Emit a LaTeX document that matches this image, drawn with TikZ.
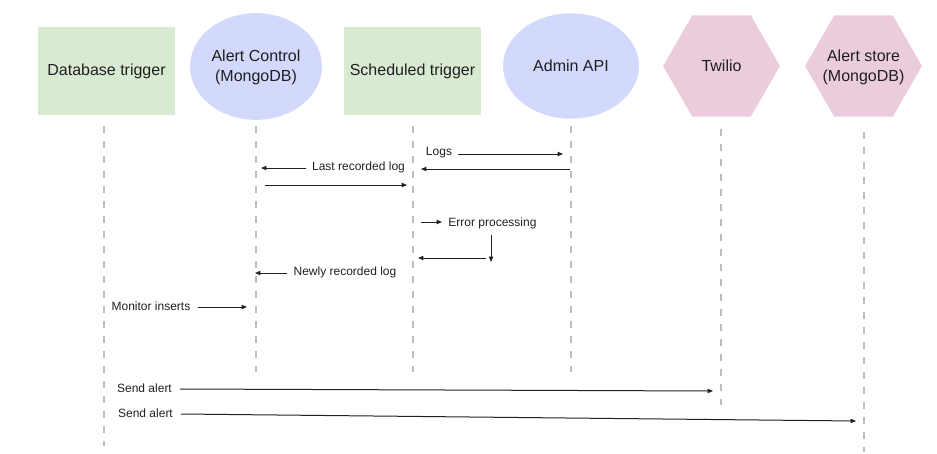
\documentclass[tikz,border=0pt]{standalone}
\usepackage{fontspec}
\setmainfont{Liberation Sans}
\usetikzlibrary{shapes.geometric,arrows.meta}
\definecolor{boxgreen}{HTML}{D9EAD3}
\definecolor{ellblue}{HTML}{D3D9FC}
\definecolor{hexpink}{HTML}{EBCCDC}
\definecolor{lifegrey}{HTML}{BDBDBD}
\definecolor{ink}{HTML}{202020}
\begin{document}
\begin{tikzpicture}[x=0.75pt,y=-0.75pt,
  headtext/.style={font=\fontsize{12}{15}\selectfont, text=ink, align=center, inner sep=0pt},
  actorbox/.style={headtext, rectangle, fill=boxgreen, minimum width=102.75pt, minimum height=66pt},
  actorell/.style={headtext, ellipse, fill=ellblue, minimum width=99pt, minimum height=80pt},
  actorhex/.style={regular polygon, regular polygon sides=6, fill=hexpink, minimum size=87.75pt, inner sep=0pt},
  lifeline/.style={draw=lifegrey, line width=1pt, dash pattern=on 5.25pt off 6pt},
  msg/.style={draw=ink, line width=0.75pt, -{Triangle[length=4pt,width=3.2pt]}},
  msgtext/.style={font=\fontsize{9}{11}\selectfont, text=ink, inner sep=0pt}]
\useasboundingbox (0,0) rectangle (937,453);

% participants
\node[actorbox] (db) at (106.5,71) {Database trigger};
\node[actorell] (ac) at (256,66.5) {};
\node[headtext] (acL) at (256,67.5) {Alert Control\\(MongoDB)};
\node[actorbox] (st) at (412.5,71) {Scheduled trigger};
\node[actorell, minimum width=102pt, minimum height=79pt] (api) at (571,66) {Admin API};
\node[actorhex] (tw) at (721.5,66) {};
\node[headtext] (twL) at (tw.center) {Twilio};
\node[actorhex] (as) at (863.5,66) {};
\node[headtext] (asL) at (863.5,67) {Alert store\\(MongoDB)};

% lifelines
\coordinate (dbT) at (104,126);  \coordinate (dbB) at (104,446);
\coordinate (acT) at (256,126);  \coordinate (acB) at (256,372);
\coordinate (stT) at (413,126);  \coordinate (stB) at (413,372);
\coordinate (apiT) at (571,126); \coordinate (apiB) at (571,372);
\coordinate (twT) at (721,129);  \coordinate (twB) at (721,405);
\coordinate (asT) at (864,132);  \coordinate (asB) at (864,452);
\foreach \a in {db,ac,st,api,tw,as} {\draw[lifeline] (\a T) -- (\a B);}

% messages
\node[msgtext] (logs) at (439,153) {Logs};
\coordinate (logsS) at (458,154); \coordinate (logsE) at (563,154);
\draw[msg] (logsS) -- (logsE);

\coordinate (retS) at (570,169); \coordinate (retE) at (421,169);
\draw[msg] (retS) -- (retE);

\node[msgtext] (lrl) at (358.5,167) {Last recorded log};
\coordinate (lrlS) at (306,168); \coordinate (lrlE) at (261,168);
\draw[msg] (lrlS) -- (lrlE);

\coordinate (fwdS) at (265,185); \coordinate (fwdE) at (407,185);
\draw[msg] (fwdS) -- (fwdE);

\node[msgtext] (ep) at (492.5,223) {Error processing};
\coordinate (epS) at (421,222); \coordinate (epE) at (442,222);
\draw[msg] (epS) -- (epE);

\coordinate (dnS) at (491,235); \coordinate (dnE) at (491,262);
\draw[msg] (dnS) -- (dnE);

\coordinate (bkS) at (486,258); \coordinate (bkE) at (418,258);
\draw[msg] (bkS) -- (bkE);

\node[msgtext] (nrl) at (345,272) {Newly recorded log};
\coordinate (nrlS) at (287,273); \coordinate (nrlE) at (255,273);
\draw[msg] (nrlS) -- (nrlE);

\node[msgtext] (mi) at (151,306) {Monitor inserts};
\coordinate (miS) at (198,307); \coordinate (miE) at (247,307);
\draw[msg] (miS) -- (miE);

\node[msgtext] (sa1) at (144.5,388) {Send alert};
\coordinate (sa1S) at (180,389); \coordinate (sa1E) at (713,391);
\draw[msg] (sa1S) -- (sa1E);

\node[msgtext] (sa2) at (145.5,413) {Send alert};
\coordinate (sa2S) at (181,414); \coordinate (sa2E) at (856,421);
\draw[msg] (sa2S) -- (sa2E);
\end{tikzpicture}
\end{document}
